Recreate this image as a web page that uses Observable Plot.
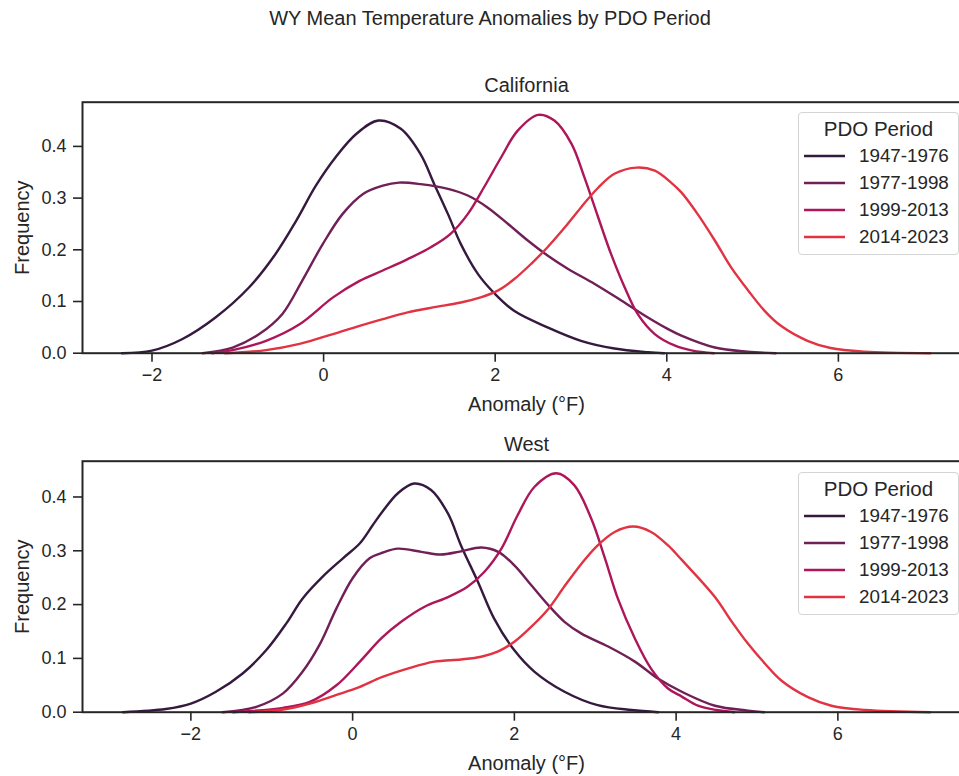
<!DOCTYPE html>
<html>
<head>
<meta charset="utf-8">
<script src="https://cdn.jsdelivr.net/npm/d3@7"></script>
<script src="https://cdn.jsdelivr.net/npm/@observablehq/plot@0.6"></script>
<style>
  html, body { margin: 0; padding: 0; background: #fff; }
  #wrap { position: relative; width: 959px; height: 776px; overflow: hidden; background: #fff;
          font-family: "Liberation Sans", Arial, sans-serif; color: #262626; }
  .abs { position: absolute; }
  .abs svg { max-width: none !important; }
  .legend { position: absolute; box-sizing: border-box; border: 1px solid #d4d4d4; border-radius: 4px;
            background: rgba(255,255,255,0.85); }
  .legend .lt { position: absolute; left: 0; width: 100%; text-align: center; font-size: 20.5px; line-height: 22px; }
  .legend .row { position: absolute; left: 0; width: 100%; height: 22px; }
  .legend .row svg { position: absolute; left: 5px; top: 0; }
  .legend .row span { position: absolute; left: 60px; top: 0; font-size: 18.8px; line-height: 22px; white-space: nowrap; }
</style>
</head>
<body>
<div id="wrap">
  <div class="abs" id="title" style="left:0;width:980px;top:7px;text-align:center;font-size:20px;line-height:22px;"></div>
  <div class="abs" id="p1" style="left:0;top:60px;width:971px;"></div>
  <div class="abs" id="p2" style="left:0;top:420px;width:971px;"></div>
</div>
<script>
// ---- Text ----
const chartTitle = "WY Mean Temperature Anomalies by PDO Period";
const panelTitles = ["California", "West"];
const xLabel = "Anomaly (°F)";
const yLabel = "Frequency";
const legendTitle = "PDO Period";

// ---- Categories & colours ----
const periods = ["1947-1976", "1977-1998", "1999-2013", "2014-2023"];
const periodColors = ["#35193e", "#701f57", "#ad1759", "#e13342"];

// ---- Tick labels ----
const xTicks = [-2, 0, 2, 4, 6];
const yTicks = [0, 0.1, 0.2, 0.3, 0.4];

// ---- Axis limits ----
const caXDomain = [-2.81, 7.54];
const caYDomain = [0, 0.4855];
const wXDomain = [-3.34, 7.64];
const wYDomain = [0, 0.4665];

// ---- California density curves [anomaly, frequency] ----
const ca1947 = [[-2.35,0],[-2.0,0.005],[-1.65,0.027],[-1.26,0.069],[-0.87,0.127],[-0.56,0.192],[-0.32,0.256],[-0.09,0.324],[0.14,0.379],[0.38,0.424],[0.64,0.450],[0.90,0.434],[1.13,0.385],[1.29,0.327],[1.45,0.269],[1.60,0.211],[1.80,0.153],[1.99,0.116],[2.22,0.082],[2.61,0.050],[3.00,0.024],[3.39,0.009],[3.78,0.002],[3.97,0]];
const ca1977 = [[-1.41,0],[-1.06,0.011],[-0.75,0.037],[-0.48,0.076],[-0.25,0.140],[-0.01,0.211],[0.22,0.269],[0.46,0.308],[0.69,0.324],[0.88,0.330],[1.13,0.327],[1.45,0.318],[1.68,0.305],[1.91,0.282],[2.15,0.250],[2.38,0.218],[2.61,0.189],[2.85,0.163],[3.16,0.134],[3.47,0.102],[3.78,0.069],[4.01,0.047],[4.17,0.034],[4.56,0.011],[4.94,0.003],[5.27,0]];
const ca1999 = [[-1.30,0],[-1.06,0.006],[-0.67,0.024],[-0.28,0.056],[0.11,0.108],[0.42,0.140],[0.69,0.160],[0.98,0.182],[1.25,0.205],[1.48,0.231],[1.68,0.269],[1.87,0.321],[2.07,0.379],[2.26,0.430],[2.50,0.461],[2.69,0.450],[2.89,0.405],[3.04,0.340],[3.20,0.263],[3.35,0.192],[3.51,0.127],[3.66,0.076],[3.86,0.037],[4.09,0.015],[4.30,0.005],[4.55,0]];
const ca2014 = [[-1.15,0],[-0.67,0.006],[-0.28,0.018],[0.11,0.037],[0.42,0.053],[0.69,0.066],[0.98,0.079],[1.29,0.089],[1.60,0.098],[1.83,0.108],[2.03,0.121],[2.22,0.143],[2.42,0.173],[2.61,0.205],[2.81,0.243],[3.00,0.282],[3.20,0.320],[3.39,0.347],[3.65,0.359],[3.86,0.353],[4.05,0.330],[4.17,0.311],[4.36,0.269],[4.56,0.218],[4.75,0.166],[4.95,0.121],[5.14,0.082],[5.33,0.053],[5.64,0.024],[5.91,0.010],[6.30,0.003],[7.07,0]];

// ---- West density curves [anomaly, frequency] ----
const w1947 = [[-2.84,0],[-2.31,0.006],[-2.0,0.016],[-1.69,0.038],[-1.36,0.072],[-1.07,0.115],[-0.82,0.165],[-0.62,0.211],[-0.37,0.252],[-0.12,0.286],[0.09,0.314],[0.25,0.348],[0.37,0.373],[0.56,0.407],[0.76,0.425],[0.97,0.413],[1.18,0.369],[1.34,0.310],[1.55,0.242],[1.75,0.174],[2.0,0.115],[2.25,0.075],[2.62,0.038],[3.03,0.013],[3.45,0.004],[3.78,0]];
const w1977 = [[-1.61,0],[-1.19,0.010],[-0.86,0.035],[-0.62,0.075],[-0.41,0.125],[-0.20,0.193],[0.0,0.249],[0.21,0.286],[0.38,0.297],[0.56,0.304],[0.85,0.298],[1.09,0.293],[1.34,0.299],[1.59,0.306],[1.80,0.298],[2.0,0.273],[2.21,0.236],[2.42,0.199],[2.62,0.168],[2.83,0.146],[3.16,0.122],[3.49,0.094],[3.78,0.062],[4.07,0.038],[4.48,0.012],[4.89,0.003],[5.09,0]];
const w1999 = [[-1.48,0],[-0.86,0.008],[-0.53,0.019],[-0.20,0.050],[0.09,0.094],[0.36,0.138],[0.60,0.168],[0.89,0.196],[1.18,0.214],[1.42,0.233],[1.63,0.261],[1.84,0.304],[2.04,0.366],[2.25,0.419],[2.52,0.444],[2.74,0.422],[2.95,0.360],[3.12,0.286],[3.28,0.211],[3.49,0.137],[3.69,0.081],[3.90,0.044],[4.07,0.029],[4.27,0.012],[4.50,0.004],[4.72,0]];
const w2014 = [[-1.28,0],[-0.86,0.005],[-0.53,0.016],[-0.20,0.032],[0.09,0.047],[0.36,0.065],[0.68,0.081],[1.01,0.094],[1.34,0.098],[1.59,0.103],[1.80,0.113],[2.0,0.131],[2.21,0.159],[2.42,0.192],[2.62,0.234],[2.83,0.276],[3.03,0.310],[3.24,0.335],[3.47,0.345],[3.69,0.335],[3.90,0.310],[4.07,0.283],[4.48,0.214],[4.68,0.170],[4.89,0.127],[5.10,0.090],[5.30,0.059],[5.63,0.028],[5.92,0.012],[6.34,0.004],[7.14,0]];

const caSeries = [ca1947, ca1977, ca1999, ca2014];
const wSeries = [w1947, w1977, w1999, w2014];

function toRows(seriesList) {
  const rows = [];
  seriesList.forEach((s, i) => s.forEach(([x, y]) => rows.push({x, y, period: periods[i]})));
  return rows;
}

const FONT = '"Liberation Sans", Arial, sans-serif';
const INK = "#262626";

function panel({rows, title, xDomain, yDomain, height, marginTop, marginBottom}) {
  return Plot.plot({
    width: 971,
    height,
    marginLeft: 82,
    marginRight: 1,
    marginTop,
    marginBottom,
    style: {fontFamily: FONT, fontSize: "18px", color: INK, background: "transparent", overflow: "visible", maxWidth: "none"},
    x: {domain: xDomain},
    y: {domain: yDomain},
    color: {domain: periods, range: periodColors},
    marks: [
      Plot.line(rows, {x: "x", y: "y", z: "period", stroke: "period", strokeWidth: 2.4, curve: "catmull-rom"}),
      Plot.frame({stroke: INK, strokeWidth: 2}),
      Plot.axisX({ticks: xTicks, tickSize: 9, tickPadding: 6, tickFormat: d3.format("d"), label: null, strokeWidth: 1.6, fontSize: 18}),
      Plot.axisY({ticks: yTicks, tickSize: 9, tickPadding: 7, tickFormat: d3.format(".1f"), label: null, strokeWidth: 1.6, fontSize: 18}),
      Plot.text([title], {text: d => d, frameAnchor: "top", dy: -16.7, fontSize: 20, lineAnchor: "middle", fill: INK}),
      Plot.text([xLabel], {text: d => d, frameAnchor: "bottom", dy: 51.3, fontSize: 20, lineAnchor: "middle", fill: INK}),
      Plot.text([yLabel], {text: d => d, frameAnchor: "left", dx: -60.3, rotate: -90, fontSize: 20, lineAnchor: "middle", textAnchor: "middle", fill: INK})
    ]
  });
}

document.getElementById("title").textContent = chartTitle;

document.getElementById("p1").appendChild(panel({
  rows: toRows(caSeries), title: panelTitles[0], xDomain: caXDomain, yDomain: caYDomain,
  height: 360, marginTop: 41.7, marginBottom: 67.3
}));
document.getElementById("p2").appendChild(panel({
  rows: toRows(wSeries), title: panelTitles[1], xDomain: wXDomain, yDomain: wYDomain,
  height: 356, marginTop: 40.7, marginBottom: 64.3
}));

function addLegend(top) {
  const box = document.createElement("div");
  box.className = "legend";
  box.style.left = "798px";
  box.style.top = top + "px";
  box.style.width = "161px";
  box.style.height = "143px";
  const t = document.createElement("div");
  t.className = "lt";
  t.style.top = (16 - 11) + "px";
  t.textContent = legendTitle;
  box.appendChild(t);
  periods.forEach((p, i) => {
    const row = document.createElement("div");
    row.className = "row";
    row.style.top = (43.2 + i * 27 - 11) + "px";
    row.innerHTML = `<svg width="42" height="22"><line x1="0" x2="41" y1="11" y2="11" stroke="${periodColors[i]}" stroke-width="2.4"/></svg><span>${p}</span>`;
    box.appendChild(row);
  });
  document.getElementById("wrap").appendChild(box);
}
addLegend(111.5);
addLegend(471.5);
</script>
</body>
</html>
